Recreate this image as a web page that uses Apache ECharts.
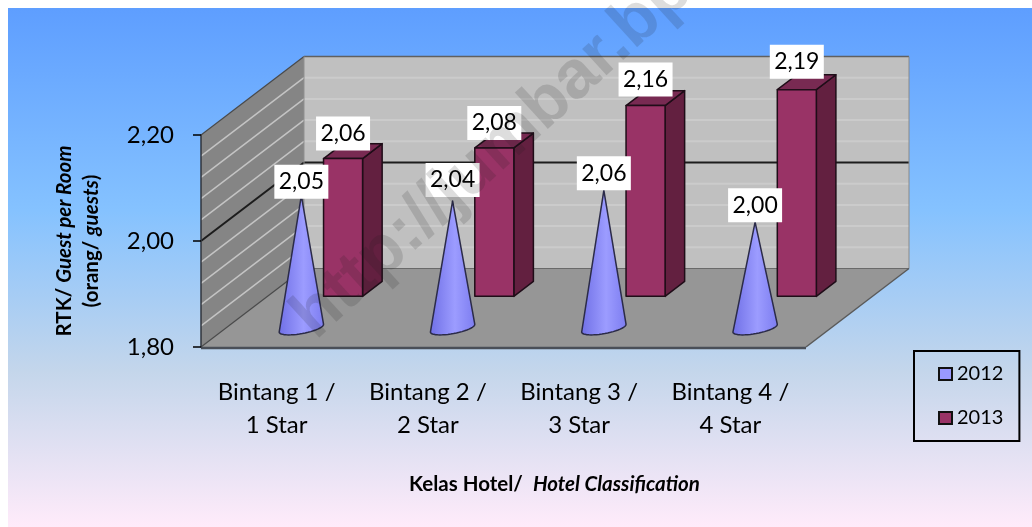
<!DOCTYPE html>
<html>
<head>
<meta charset="utf-8">
<style>html,body{margin:0;padding:0;background:#fff}#c{width:1032px;height:527px;filter:blur(0.4px)}</style>
<script src="https://cdn.jsdelivr.net/npm/echarts@6/dist/echarts.min.js"></script>
</head>
<body>
<div id="c"></div>
<script>
const categories = ['Bintang 1 /\n1 Star', 'Bintang 2 /\n2 Star', 'Bintang 3 /\n3 Star', 'Bintang 4 /\n4 Star'];
const seriesNames = ['2012', '2013'];
const values2012 = [2.05, 2.04, 2.06, 2.00];
const values2013 = [2.06, 2.08, 2.16, 2.19];
const yMin = 1.8, yMax = 2.2, yStep = 0.2, yMinorStep = 0.04;

// projection of the depth direction, in pixels
const DEPTH = [103, -78.5];
const FONT = 'Lato, "Open Sans", sans-serif';
const fmt = v => v.toFixed(2).replace('.', ',');
const labelNudge2012 = [3, -4, 0, 0];
const labelNudge2013 = [0, 0, -1, -3];

function at(api, cat, val, f) {
  const p = api.coord([cat, val]);
  return [p[0] + DEPTH[0] * f, p[1] + DEPTH[1] * f];
}

function renderWalls(params, api) {
  const bandW = api.size([1, 0])[0];
  const left = api.coord([0, yMin])[0] - bandW / 2;
  const right = left + bandW * categories.length;
  const yb = api.coord([0, yMin])[1], yt = api.coord([0, yMax])[1];
  const dx = DEPTH[0], dy = DEPTH[1];
  const kids = [];
  const poly = (pts, fill, stroke, lw) => kids.push({type: 'polygon', shape: {points: pts}, style: {fill, stroke: stroke || null, lineWidth: lw || 0}});
  const line = (a, b, c, lw) => kids.push({type: 'line', shape: {x1: a[0], y1: a[1], x2: b[0], y2: b[1]}, style: {stroke: c, lineWidth: lw}});
  poly([[left + dx, yt + dy], [right + dx, yt + dy], [right + dx, yb + dy], [left + dx, yb + dy]], '#c0c0c0');
  poly([[left, yt], [left + dx, yt + dy], [left + dx, yb + dy], [left, yb]], '#858585');
  poly([[left, yb], [right, yb], [right + dx, yb + dy], [left + dx, yb + dy]], '#969696');
  const n = Math.round((yMax - yMin) / yMinorStep);
  for (let i = 1; i < n; i++) {
    const v = yMin + i * yMinorStep;
    const y = api.coord([0, v])[1];
    if (i === n / 2) continue;
    line([left + dx, y + dy], [right + dx, y + dy], '#cbcbcb', 2);
    line([left, y], [left + dx, y + dy], '#c4c4c4', 1.5);
  }
  const mid = api.coord([0, yMin + yStep])[1];
  line([left + dx, mid + dy], [right + dx, mid + dy], '#1c1c1c', 2);
  line([left, mid], [left + dx, mid + dy], '#1c1c1c', 2);
  line([left, yt], [left + dx, yt + dy], '#4a4a4a', 1.2);
  line([left + dx, yt + dy], [right + dx, yt + dy], '#606060', 1.5);
  line([right + dx, yt + dy], [right + dx, yb + dy], '#8a8a8a', 1);
  line([left + dx, yt + dy], [left + dx, yb + dy], '#8f8f8f', 1);
  line([left + dx, yb + dy], [right + dx, yb + dy], '#6a6a6a', 1);
  line([left, yb], [left + dx, yb + dy], '#4a4a4a', 1.2);
  line([right, yb], [right + dx, yb + dy], '#5a5a5a', 1.5);
  line([left, yb + 1], [right, yb + 1], '#4a4f58', 2.5);
  return {type: 'group', children: kids};
}

function labelBox(cx, bottom, w, txt) {
  const h = 34;
  return [
    {type: 'rect', shape: {x: cx - w / 2, y: bottom - h, width: w, height: h}, style: {fill: '#fff'}},
    {type: 'text', x: cx, y: bottom - h / 2, style: {text: txt, font: '23px ' + FONT, fill: '#000', align: 'center', verticalAlign: 'middle'}}
  ];
}

function renderBar(params, api) {
  const i = api.value(0), v = api.value(1);
  const f = 0.645, fd = 0.19;
  const hw = api.size([1, 0])[0] * 0.129;
  const b = at(api, i, yMin, f), t = at(api, i, v, f);
  const ox = DEPTH[0] * fd, oy = DEPTH[1] * fd;
  const x0 = b[0] - hw, x1 = b[0] + hw;
  const st = {stroke: '#1f0d18', lineWidth: 1.5, lineJoin: 'round'};
  return {type: 'group', children: [
    {type: 'polygon', shape: {points: [[x1, t[1]], [x1 + ox, t[1] + oy], [x1 + ox, b[1] + oy], [x1, b[1]]]}, style: {fill: '#632040', ...st}},
    {type: 'polygon', shape: {points: [[x0, t[1]], [x0 + ox, t[1] + oy], [x1 + ox, t[1] + oy], [x1, t[1]]]}, style: {fill: '#782a52', ...st}},
    {type: 'polygon', shape: {points: [[x0, t[1]], [x1, t[1]], [x1, b[1]], [x0, b[1]]]}, style: {fill: '#993366', ...st}},
    ...labelBox(b[0], t[1] - 8 + labelNudge2013[i], 54, fmt(v))
  ]};
}

function renderCone(params, api) {
  const i = api.value(0), v = api.value(1);
  const f = 0.24;
  const b = at(api, i, yMin, f), t = at(api, i, v, f);
  const rx = api.size([1, 0])[0] * 0.149, ry = 5.5, tilt = -0.18;
  const pts = [[b[0], t[1]]];
  for (let k = 0; k <= 24; k++) {
    const a = Math.PI * k / 24;
    const ex = rx * Math.cos(a), ey = ry * Math.sin(a);
    pts.push([b[0] + ex * Math.cos(tilt) - ey * Math.sin(tilt), b[1] + ex * Math.sin(tilt) + ey * Math.cos(tilt)]);
  }
  return {type: 'group', children: [
    {type: 'polygon', shape: {points: pts}, style: {
      fill: {type: 'linear', x: 0, y: 0, x2: 1, y2: 0, colorStops: [
        {offset: 0, color: '#6f6fe6'}, {offset: 0.55, color: '#9c9cff'}, {offset: 1, color: '#7c7cf0'}]},
      stroke: '#2b2b48', lineWidth: 1.5, lineJoin: 'round'}},
    ...labelBox(b[0], t[1] + labelNudge2012[i], 54, fmt(v))
  ]};
}

const chart = echarts.init(document.getElementById('c'), null, {renderer: 'canvas', width: 1032, height: 527});
chart.setOption({
  animation: false,
  title: {
    text: '{b|Kelas Hotel/  }{i|Hotel Classification}',
    left: 409, top: 474, padding: 0,
    textStyle: {rich: {
      b: {fontFamily: FONT, fontSize: 20.5, fontWeight: 'bold', color: '#000'},
      i: {fontFamily: FONT, fontSize: 20.5, fontWeight: 'bold', fontStyle: 'italic', color: '#000'}
    }}
  },
  graphic: [
    {type: 'rect', z: -100, silent: true, shape: {x: 8, y: 8, width: 1024, height: 519}, style: {
      fill: {type: 'linear', x: 0, y: 0, x2: 0, y2: 1, colorStops: [
        {offset: 0, color: '#5E9EFF'}, {offset: 0.39, color: '#85C2FF'}, {offset: 0.7, color: '#C4D6EB'}, {offset: 1, color: '#FFEBFA'}]}}},
    {type: 'text', z: 1000, silent: true, x: 326, y: 352, rotation: 0.74, style: {
      text: 'http://jumbar.bps', font: 'bold 68px "Liberation Sans", Arial, sans-serif', fill: 'rgba(30,30,30,0.15)', verticalAlign: 'bottom'}}
  ],
  legend: {
    orient: 'vertical', left: 914, top: 351, padding: [13, 16, 13, 24],
    itemWidth: 13, itemHeight: 12, itemGap: 24,
    borderColor: '#000', borderWidth: 2,
    textStyle: {fontFamily: FONT, fontSize: 20, color: '#000'},
    data: [
      {name: seriesNames[0], icon: 'rect', itemStyle: {color: '#9999ff', borderColor: '#111', borderWidth: 2}},
      {name: seriesNames[1], icon: 'rect', itemStyle: {color: '#993366', borderColor: '#111', borderWidth: 2}}
    ]
  },
  grid: {left: 201, top: 135, width: 605, height: 212, containLabel: false},
  xAxis: {
    type: 'category', data: categories, z: 5,
    axisLine: {show: false}, axisTick: {show: false},
    axisLabel: {fontFamily: FONT, fontSize: 24, color: '#000', lineHeight: 33, margin: 29, interval: 0}
  },
  yAxis: {
    type: 'value', min: yMin, max: yMax, interval: yStep, z: 5,
    name: '{b|RTK/ }{i|Guest per Room}\n{b|(orang/ }{i|guests}{b|)}',
    nameLocation: 'middle', nameRotate: 90, nameGap: 96,
    nameTextStyle: {rich: {
      b: {fontFamily: FONT, fontSize: 20.5, fontWeight: 'bold', color: '#000', lineHeight: 27},
      i: {fontFamily: FONT, fontSize: 20.5, fontWeight: 'bold', fontStyle: 'italic', color: '#000', lineHeight: 27}
    }},
    axisLine: {show: true, lineStyle: {color: '#30343c', width: 1.5}},
    axisTick: {show: true, length: 8, lineStyle: {color: '#000', width: 1.5}},
    splitLine: {show: false},
    axisLabel: {fontFamily: FONT, fontSize: 24, color: '#000', margin: 27, padding: [7, 0, 0, 0], formatter: v => fmt(v)}
  },
  series: [
    {type: 'custom', name: 'walls', z: 1, silent: true, renderItem: renderWalls, data: [[0, yMin]], encode: {x: 0, y: 1}, clip: false},
    {type: 'custom', name: seriesNames[1], z: 2, silent: true, renderItem: renderBar, itemStyle: {color: '#993366'},
      data: values2013.map((v, i) => [i, v]), encode: {x: 0, y: 1}, clip: false},
    {type: 'custom', name: seriesNames[0], z: 3, silent: true, renderItem: renderCone, itemStyle: {color: '#9999ff'},
      data: values2012.map((v, i) => [i, v]), encode: {x: 0, y: 1}, clip: false}
  ]
});
</script>
</body>
</html>
